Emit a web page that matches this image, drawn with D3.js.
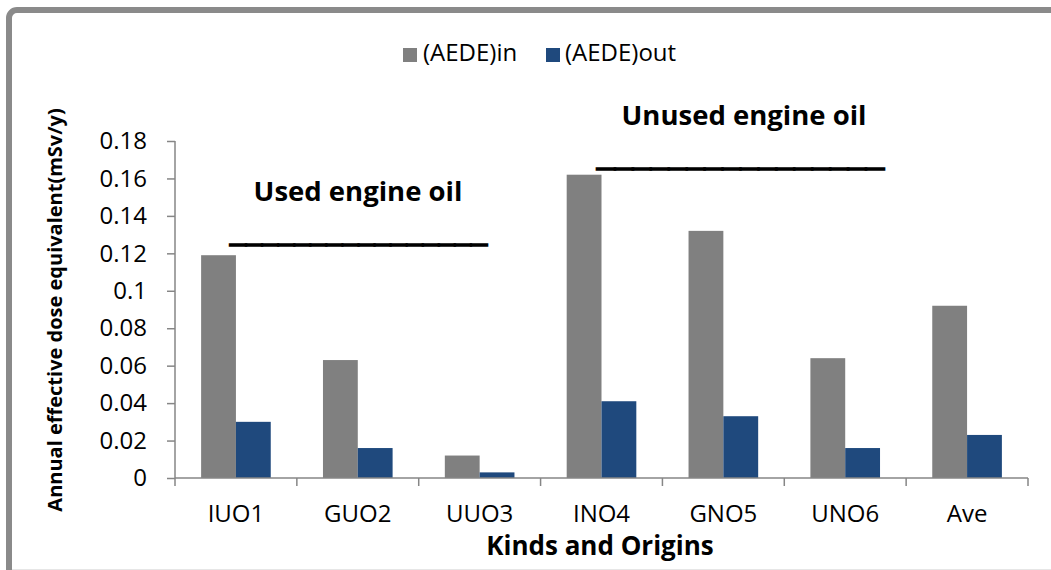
<!DOCTYPE html>
<html>
<head>
<meta charset="utf-8">
<script src="https://cdn.jsdelivr.net/npm/d3@7"></script>
<style>
  html, body { margin: 0; padding: 0; background: #fff; }
  svg { display: block; }
  text { font-family: "Open Sans", "Noto Sans", sans-serif; fill: #000; }
</style>
</head>
<body>
<svg id="chart" width="1051" height="570"></svg>
<script>
const categories = ["IUO1", "GUO2", "UUO3", "INO4", "GNO5", "UNO6", "Ave"];
const seriesNames = ["(AEDE)in", "(AEDE)out"];
const aedeIn  = [0.119, 0.063, 0.012, 0.162, 0.132, 0.064, 0.092];
const aedeOut = [0.030, 0.016, 0.003, 0.041, 0.033, 0.016, 0.023];
const yTicks = [0, 0.02, 0.04, 0.06, 0.08, 0.1, 0.12, 0.14, 0.16, 0.18];
const yTickLabels = ["0", "0.02", "0.04", "0.06", "0.08", "0.1", "0.12", "0.14", "0.16", "0.18"];
const colors = ["#808080", "#1F497D"];
const yTitle = "Annual effective dose equivalent(mSv/y)";
const xTitle = "Kinds and Origins";
const groupLabels = ["Used engine oil", "Unused engine oil"];
const underline = "________________";

const svg = d3.select("#chart");

// outer frame
svg.append("rect").attr("x", 9).attr("y", 10).attr("width", 1200).attr("height", 700)
  .attr("rx", 8).attr("fill", "#fff").attr("stroke", "#8a8a8a").attr("stroke-width", 6);
svg.append("line").attr("x1", 12).attr("x2", 1051).attr("y1", 569.5).attr("y2", 569.5)
  .attr("stroke", "#e6e6e6").attr("stroke-width", 1);

const pLeft = 175, pRight = 1028, pTop = 141, pBottom = 478;
const x = d3.scaleBand().domain(categories).range([pLeft, pRight]).paddingInner(0).paddingOuter(0);
const y = d3.scaleLinear().domain([0, 0.18]).range([pBottom, pTop]);
const bw = x.bandwidth() / 3.5;
const xs = d3.scaleBand().domain(seriesNames).range([0.75 * bw, 2.75 * bw]);

const axisColor = "#868686";

// bars
const series = [aedeIn, aedeOut];
series.forEach((vals, si) => {
  svg.append("g").selectAll("rect").data(vals).join("rect")
    .attr("x", (d, i) => x(categories[i]) + xs(seriesNames[si]))
    .attr("y", d => y(d))
    .attr("width", xs.bandwidth())
    .attr("height", d => y(0) - y(d))
    .attr("fill", colors[si]);
});

// y axis
const yAxis = svg.append("g").attr("transform", `translate(${pLeft},0)`)
  .call(d3.axisLeft(y).tickValues(yTicks).tickFormat((d, i) => yTickLabels[i]).tickSize(8).tickPadding(20));
yAxis.select(".domain").attr("stroke", axisColor).attr("stroke-width", 1.5).attr("d", `M0,${pTop}V${pBottom}`);
yAxis.selectAll(".tick line").attr("stroke", axisColor).attr("stroke-width", 1.5);
yAxis.selectAll(".tick text").style("font-size", "24px").attr("fill", "#000");

// x axis
const xAxis = svg.append("g").attr("transform", `translate(0,${pBottom})`)
  .call(d3.axisBottom(x).tickSize(0).tickPadding(0));
xAxis.select(".domain").attr("stroke", axisColor).attr("stroke-width", 1.5).attr("d", `M${pLeft},0H${pRight}`);
xAxis.selectAll(".tick text").style("font-size", "24px").attr("fill", "#000").attr("dy", null).attr("y", 44);
const bounds = categories.map(c => x(c)).concat([pRight]);
xAxis.append("g").selectAll("line").data(bounds).join("line")
  .attr("x1", d => d).attr("x2", d => d).attr("y1", 0).attr("y2", 8)
  .attr("stroke", axisColor).attr("stroke-width", 1.5);

// axis titles
svg.append("text").attr("transform", "translate(62,310) rotate(-90)")
  .attr("text-anchor", "middle").style("font-size", "20px").style("font-weight", "700").text(yTitle);
svg.append("text").attr("x", 600).attr("y", 555)
  .attr("text-anchor", "middle").style("font-size", "26px").style("font-weight", "700").text(xTitle);

// legend
const legendItems = [{ x: 403, tx: 423 }, { x: 546, tx: 565 }];
legendItems.forEach((li, i) => {
  svg.append("rect").attr("x", li.x).attr("y", 48).attr("width", 14).attr("height", 14).attr("fill", colors[i]);
  svg.append("text").attr("x", li.tx).attr("y", 61).style("font-size", "24px").text(seriesNames[i]);
});

// group annotations
const ann = [
  { cx: 358, ty: 201, lx: 230, lw: 257, ly: 242 },
  { cx: 744, ty: 125, lx: 597, lw: 287, ly: 166 }
];
ann.forEach((a, i) => {
  svg.append("text").attr("x", a.cx).attr("y", a.ty).attr("text-anchor", "middle")
    .style("font-size", "27.5px").style("font-weight", "700").text(groupLabels[i]);
  svg.append("text").attr("x", a.lx).attr("y", a.ly)
    .attr("textLength", a.lw).attr("lengthAdjust", "spacingAndGlyphs")
    .attr("stroke", "#000").attr("stroke-width", 1.6)
    .style("font-size", "27.5px").style("font-weight", "700").text(underline);
});
</script>
</body>
</html>
